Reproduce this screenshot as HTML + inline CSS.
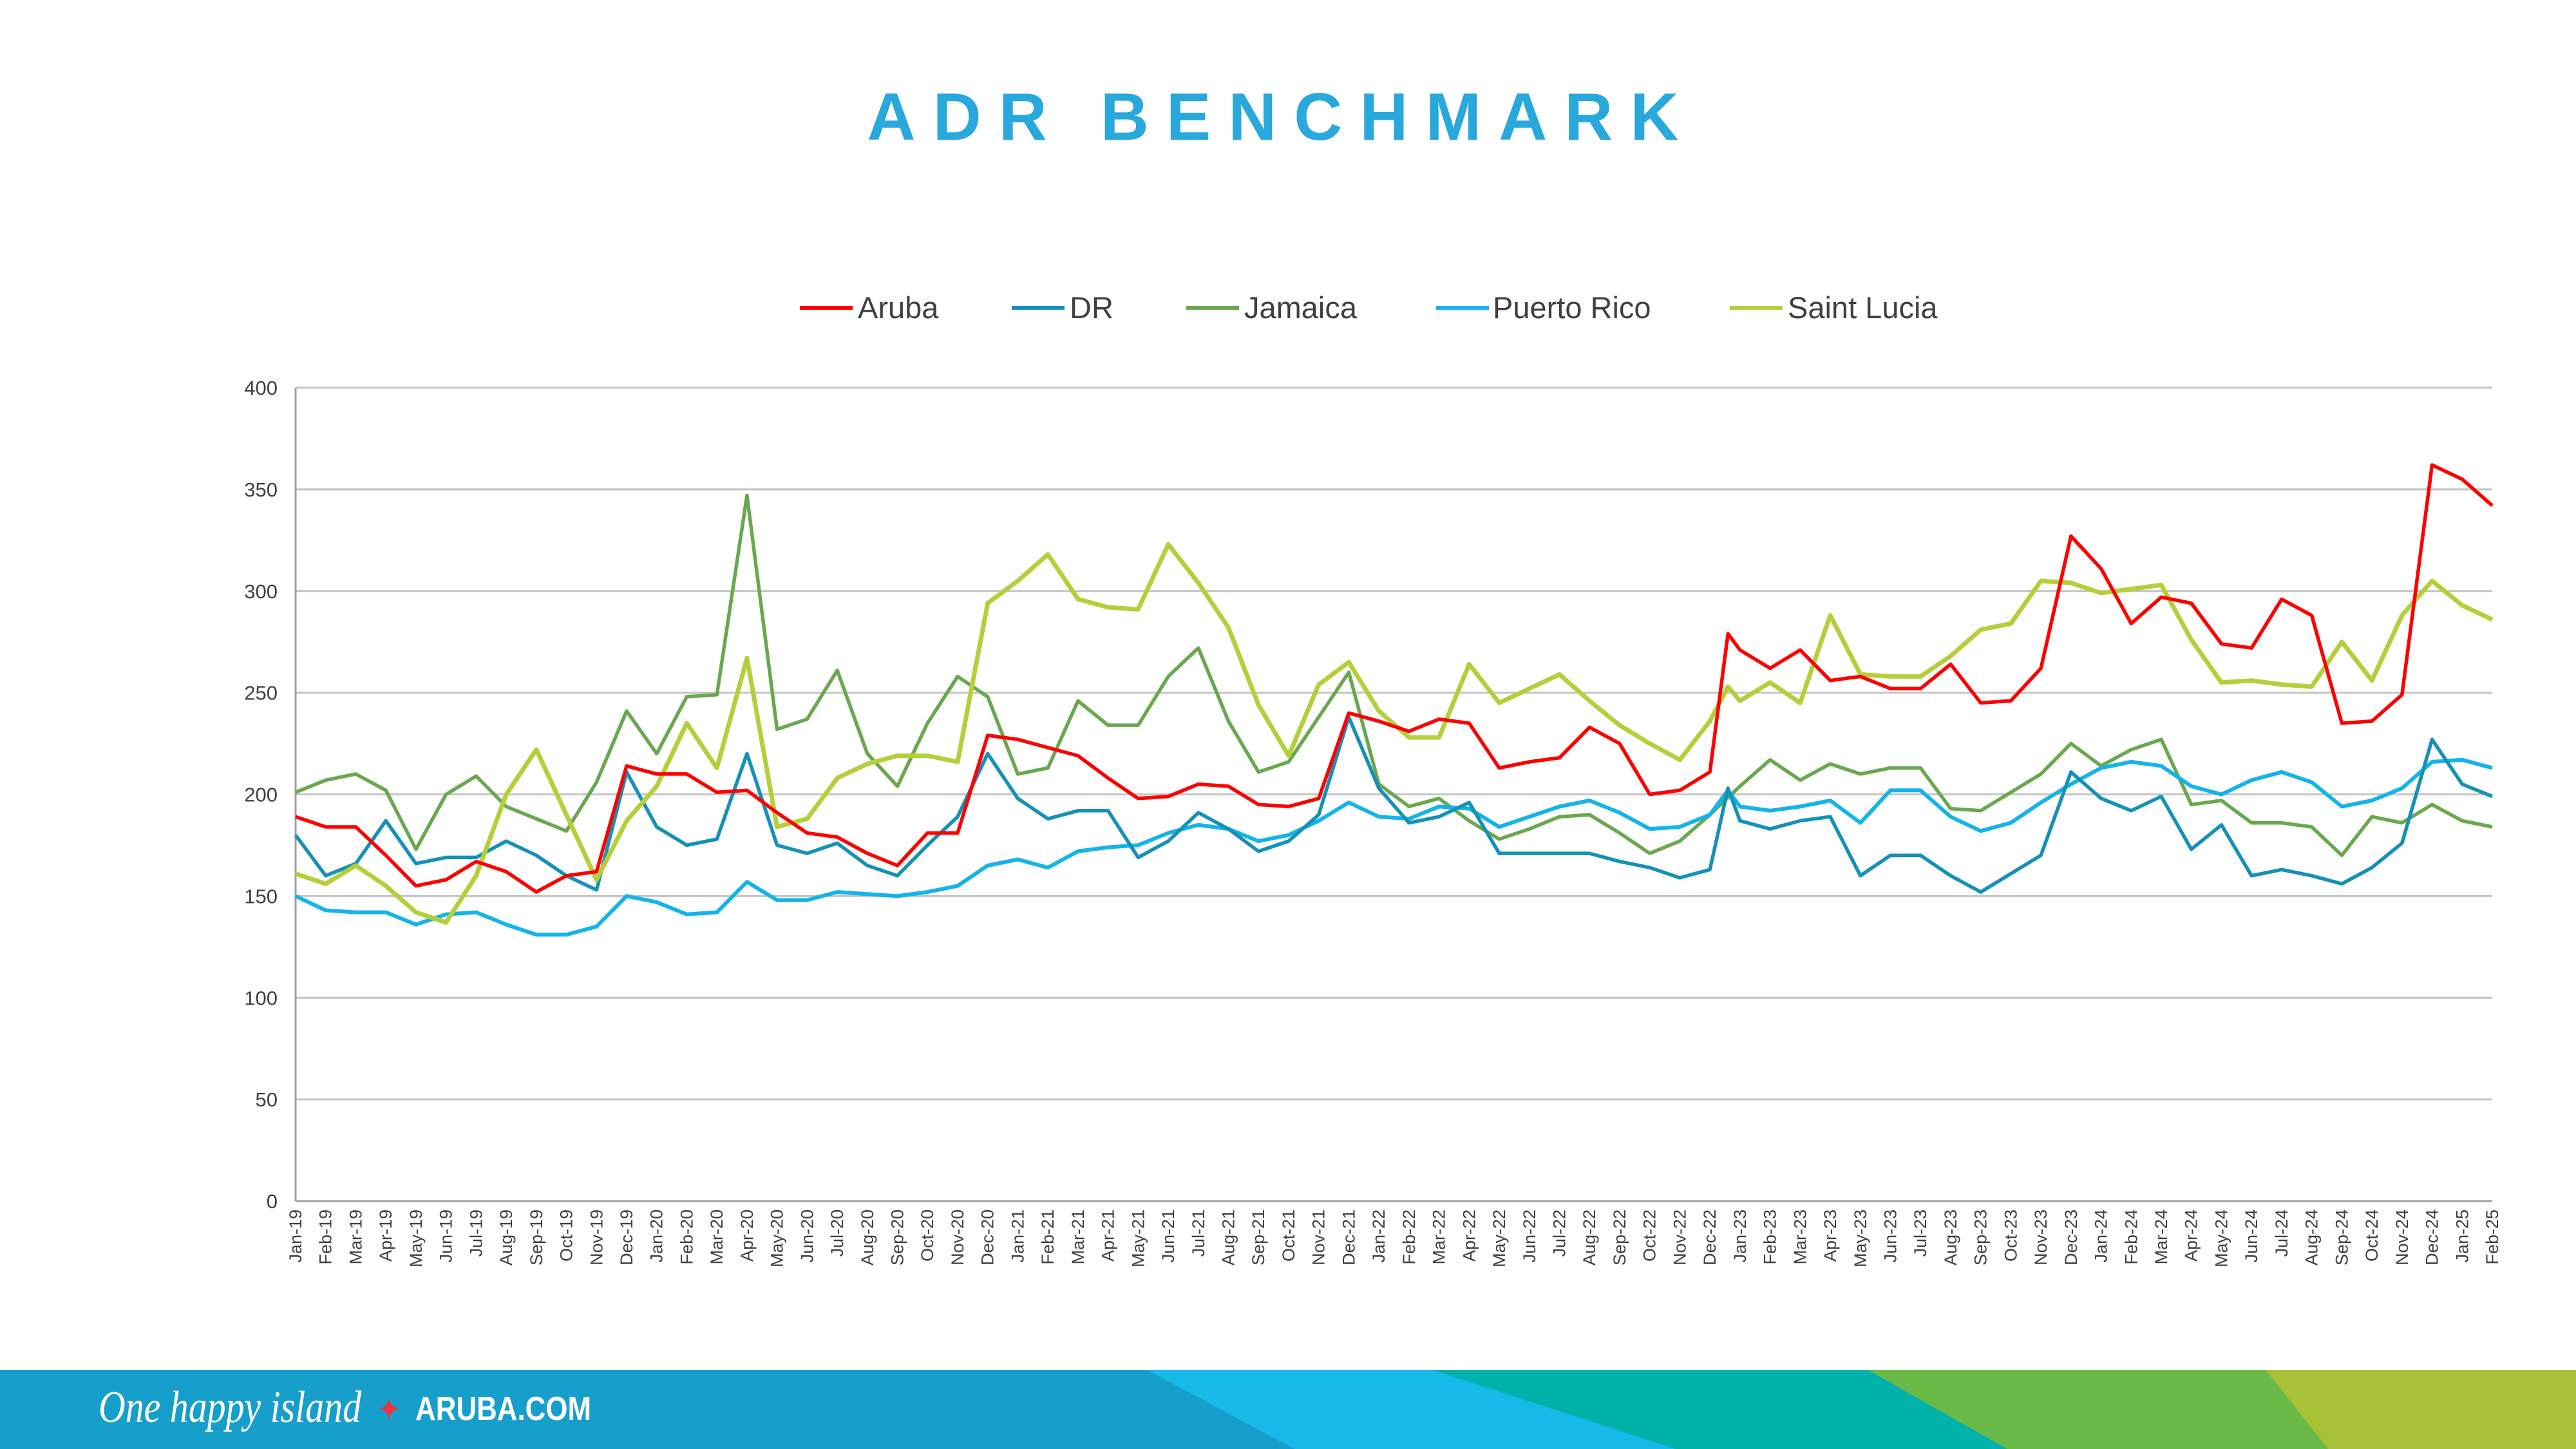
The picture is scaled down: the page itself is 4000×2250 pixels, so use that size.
<!DOCTYPE html>
<html><head><meta charset="utf-8"><style>
html,body{margin:0;padding:0;background:#fff;}
body{width:4000px;height:2250px;overflow:hidden;position:relative;font-family:"Liberation Sans",Arial,sans-serif;}
</style></head><body>
<svg id="s" width="4000" height="2250" viewBox="0 0 4000 2250" xmlns="http://www.w3.org/2000/svg" style="position:absolute;left:0;top:0">
<text x="1990" y="217" text-anchor="middle" font-family="Liberation Sans, sans-serif" font-weight="bold" font-size="104" letter-spacing="27" fill="#29a8dc">ADR BENCHMARK</text>
<g font-family="Liberation Sans, sans-serif" font-size="47" fill="#404040">
<line x1="1242" y1="478" x2="1324" y2="478" stroke="#ff0000" stroke-width="6"/><text x="1332" y="494">Aruba</text>
<line x1="1571" y1="478" x2="1653" y2="478" stroke="#1591b8" stroke-width="6"/><text x="1661" y="494">DR</text>
<line x1="1842" y1="478" x2="1924" y2="478" stroke="#6aa84f" stroke-width="6"/><text x="1932" y="494">Jamaica</text>
<line x1="2230" y1="478" x2="2312" y2="478" stroke="#14b4e8" stroke-width="6"/><text x="2318" y="494">Puerto Rico</text>
<line x1="2686" y1="478" x2="2768" y2="478" stroke="#b5cf3a" stroke-width="6"/><text x="2776" y="494">Saint Lucia</text>
</g>
<g id="grid"></g>
<g id="series" fill="none" stroke-linejoin="round"></g>
<g id="xl" font-family="Liberation Sans, sans-serif" font-size="27" fill="#404040"></g>
<rect x="0" y="2127" width="4000" height="123" fill="#179fcb"/>
<polygon points="1781,2127 2224,2127 2602,2250 2010,2250" fill="#17b9e9"/>
<polygon points="2224,2127 2900,2127 3117,2250 2602,2250" fill="#00b2a9"/>
<polygon points="2900,2127 3518,2127 3615,2250 3117,2250" fill="#6aba47"/>
<polygon points="3518,2127 4000,2127 4000,2250 3615,2250" fill="#a9c136"/>
<text x="153" y="2208" textLength="408" lengthAdjust="spacingAndGlyphs" font-family="Liberation Serif, serif" font-style="italic" font-size="70" fill="#fff">One happy island</text>
<text x="584" y="2205" font-size="48" fill="#e8353f">✦</text>
<text x="645" y="2205" textLength="273" lengthAdjust="spacingAndGlyphs" font-family="Liberation Sans, sans-serif" font-weight="bold" font-size="52" fill="#fff">ARUBA.COM</text>
</svg>
<script>
var ns="http://www.w3.org/2000/svg";
function el(t,a,p){var e=document.createElementNS(ns,t);for(var k in a)e.setAttribute(k,a[k]);p.appendChild(e);return e;}
var X0=459,X1=3870,Y0=1865,S=3.1575,dx=(X1-X0)/73;
var grid=document.getElementById('grid');
for(var v=0;v<=400;v+=50){var y=Y0-v*S;
 if(v>0)el('line',{x1:X0,x2:X1,y1:y,y2:y,stroke:'#c4c4c4','stroke-width':3},grid);
 var t=el('text',{x:X0-28,y:y+11,'text-anchor':'end','font-family':'Liberation Sans, sans-serif','font-size':31,fill:'#404040'},grid);t.textContent=v;}
el('line',{x1:X0,x2:X0,y1:Y0-400*S,y2:Y0,stroke:'#a0a0a0','stroke-width':3},grid);
el('line',{x1:X0,x2:X1,y1:Y0,y2:Y0,stroke:'#a0a0a0','stroke-width':3},grid);
var mon=['Jan','Feb','Mar','Apr','May','Jun','Jul','Aug','Sep','Oct','Nov','Dec'];
var xl=document.getElementById('xl');
for(var i=0;i<74;i++){var m=mon[i%12]+'-'+(19+Math.floor(i/12));var x=X0+i*dx;
 var t=el('text',{transform:'translate('+(x+9)+',1878) rotate(-90)','text-anchor':'end'},xl);t.textContent=m;}
var D={
ar:[189,184,184,170,155,158,167,162,152,160,162,214, 210,210,201,202,191,181,179,171,165,181,181,229, 227,223,219,208,198,199,205,204,195,194,198,240, 236,231,237,235,213,216,218,233,225,200,202,211, 271,262,271,256,258,252,252,264,245,246,262,327, 311,284,297,294,274,272,296,288,235,236,249,362, 355,342],
dr:[180,160,166,187,166,169,169,177,170,160,153,211, 184,175,178,220,175,171,176,165,160,175,189,220, 198,188,192,192,169,177,191,183,172,177,190,238, 203,186,189,196,171,171,171,171,167,164,159,163, 187,183,187,189,160,170,170,160,152,161,170,211, 198,192,199,173,185,160,163,160,156,164,176,227, 205,199],
ja:[201,207,210,202,173,200,209,194,188,182,206,241, 220,248,249,347,232,237,261,220,204,235,258,248, 210,213,246,234,234,258,272,236,211,216,238,260, 205,194,198,187,178,183,189,190,181,171,177,190, 204,217,207,215,210,213,213,193,192,201,210,225, 214,222,227,195,197,186,186,184,170,189,186,195, 187,184],
pr:[150,143,142,142,136,141,142,136,131,131,135,150, 147,141,142,157,148,148,152,151,150,152,155,165, 168,164,172,174,175,181,185,183,177,180,187,196, 189,188,194,193,184,189,194,197,191,183,184,190, 194,192,194,197,186,202,202,189,182,186,196,205, 213,216,214,204,200,207,211,206,194,197,203,216, 217,213],
sl:[161,156,165,155,142,137,160,200,222,190,158,187, 204,235,213,267,184,188,208,215,219,219,216,294, 305,318,296,292,291,323,304,282,244,219,254,265, 241,228,228,264,245,252,259,246,234,225,217,236, 246,255,245,288,259,258,258,268,281,284,305,304, 299,301,303,276,255,256,254,253,275,256,288,305, 293,286]};
var extra={ar:279,dr:203,pr:202,sl:253};
var cfg=[['ja','#6aa84f',5.5],['pr','#14b4e8',6],['dr','#1591b8',5.5],['sl','#b5cf3a',7],['ar','#ff0000',5.5]];
var g=document.getElementById('series');
cfg.forEach(function(c){var a=D[c[0]],pts=[];
 for(var i=0;i<a.length;i++){
  if(i==48&&extra[c[0]]!==undefined)pts.push((X0+47.6*dx).toFixed(1)+','+(Y0-extra[c[0]]*S).toFixed(1));
  pts.push((X0+i*dx).toFixed(1)+','+(Y0-a[i]*S).toFixed(1));}
 el('polyline',{points:pts.join(' '),stroke:c[1],'stroke-width':c[2]},g);});
</script>
</body></html>
